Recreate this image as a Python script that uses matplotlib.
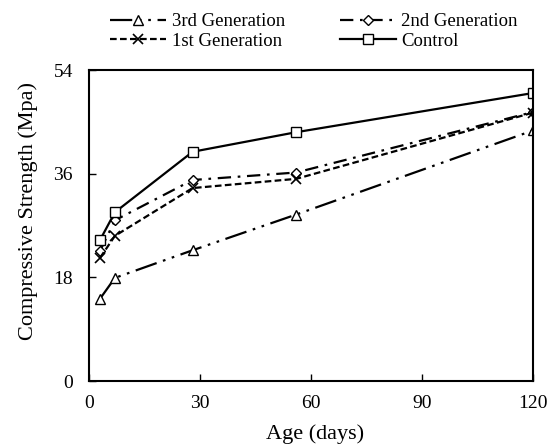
import matplotlib
matplotlib.use('Agg')
import matplotlib.pyplot as plt

# Données
age = [3, 7, 28, 56, 120]
gen3 = [14.3, 17.9, 22.7, 28.9, 43.5]
gen2 = [22.6, 27.9, 34.9, 36.2, 46.7]
gen1 = [21.4, 25.2, 33.5, 35.1, 46.6]
control = [24.5, 29.3, 39.8, 43.2, 50.0]

x_ticks = [0, 30, 60, 90, 120]
y_ticks = [0, 18, 36, 54]

plt.rcParams['font.family'] = ['Liberation Serif', 'DejaVu Serif']

fig = plt.figure(figsize=(5.55, 4.44), dpi=100)
ax = fig.add_axes([89 / 555, 63 / 444, 444 / 555, 311 / 444])

lw = 1.6
ms = 7
ax.plot(age, gen3, color='black', linewidth=lw, dashes=(10, 3, 1.2, 3, 1.2, 3),
        marker='^', markersize=ms, markerfacecolor='white', markeredgecolor='black',
        markeredgewidth=1.0, label='3rd Generation')
ax.plot(age, gen2, color='black', linewidth=lw, dashes=(6, 3, 1.2, 3),
        marker='D', markersize=ms - 1.5, markerfacecolor='white', markeredgecolor='black',
        markeredgewidth=1.0, label='2nd Generation')
ax.plot(age, gen1, color='black', linewidth=lw, dashes=(3, 1.5),
        marker='x', markersize=ms, markeredgecolor='black',
        markeredgewidth=1.2, label='1st Generation')
ax.plot(age, control, color='black', linewidth=lw, linestyle='-',
        marker='s', markersize=ms, markerfacecolor='white', markeredgecolor='black',
        markeredgewidth=1.0, label='Control')

ax.set_xlim(0, 120)
ax.set_ylim(0, 54)
ax.set_xticks(x_ticks)
ax.set_yticks(y_ticks)
ax.tick_params(direction='in', length=5, width=1, labelsize=14)
ax.tick_params(axis='x', pad=10)
ax.tick_params(axis='y', pad=11.5)
for s in ax.spines.values():
    s.set_linewidth(1.5)

ax.set_xlabel('Age (days)', fontsize=16)
ax.set_ylabel('Compressive Strength (Mpa)', fontsize=16)
ax.xaxis.set_label_coords(0.509, -0.14)
ax.yaxis.set_label_coords(-0.114, 0.547)

handles, labels = ax.get_legend_handles_labels()
order = [0, 2, 1, 3]
fig.legend([handles[i] for i in order], [labels[i] for i in order],
           loc='upper left', bbox_to_anchor=(110 / 555, 1 - 13 / 444), ncol=2, frameon=False,
           fontsize=13.5, handlelength=3, columnspacing=2.9, labelspacing=0.12,
           handletextpad=0.3, borderpad=0, borderaxespad=0)

plt.savefig('out.png', dpi=100)
